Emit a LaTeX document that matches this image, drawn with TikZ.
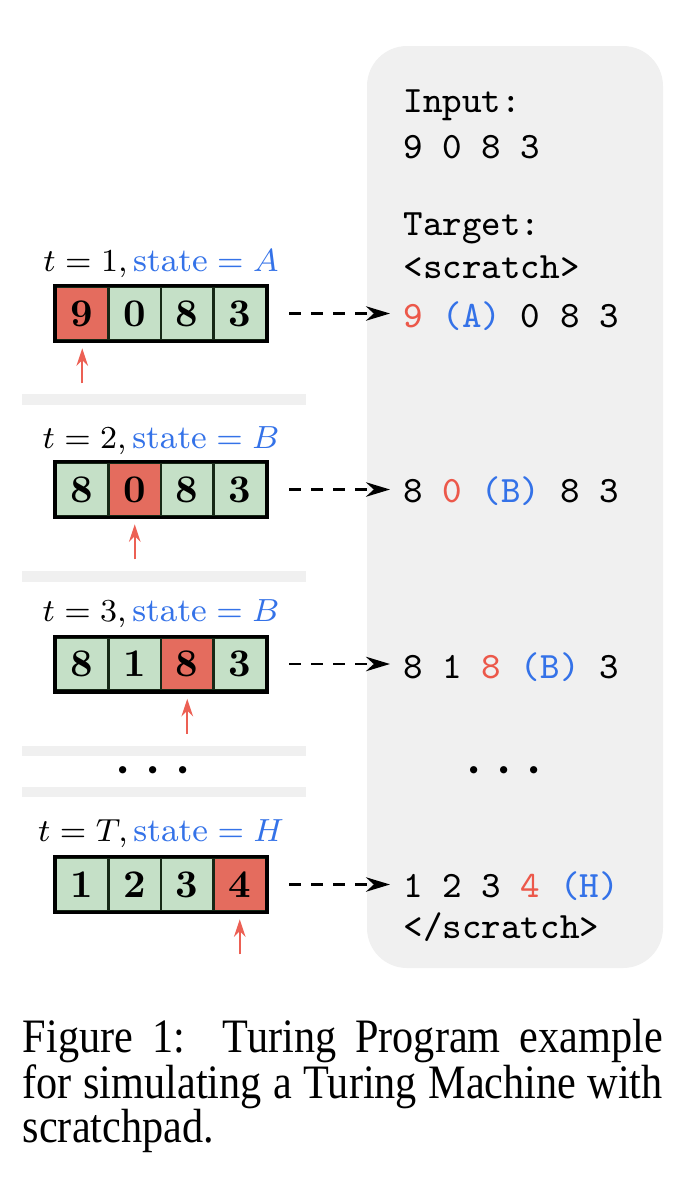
\documentclass[tikz,border=0pt]{standalone}
\usepackage{fontspec}
\usetikzlibrary{arrows.meta,positioning}
\newfontfamily\capfont[FakeStretch=0.88]{Liberation Serif}
\definecolor{headred}{RGB}{228,108,94}
\definecolor{tapegreen}{RGB}{197,224,199}
\definecolor{cellline}{RGB}{22,40,22}
\definecolor{ptrred}{RGB}{236,96,84}
\definecolor{txtred}{RGB}{236,88,74}
\definecolor{stblue}{RGB}{52,114,232}
\definecolor{panel}{RGB}{240,240,240}
\newcommand{\rd}[1]{\textcolor{txtred}{#1}}
\newcommand{\bl}[1]{\textcolor{stblue}{#1}}
\begin{document}
\begin{tikzpicture}[x=0.25pt, y=-0.25pt,
  cell/.style={draw=cellline, line width=0.6pt, fill=tapegreen, inner sep=0pt,
    minimum width=13.1pt, minimum height=13.3pt,
    font=\fontsize{9.8}{10}\selectfont\bfseries},
  head/.style={cell, fill=headred},
  lab/.style={anchor=base, inner sep=0pt, font=\fontsize{8.3}{10}\selectfont},
  mono/.style={anchor=base west, inner sep=0pt, font=\fontsize{9.3}{11}\selectfont\ttfamily},
  flow/.style={line width=0.7pt, dash pattern=on 2.9pt off 2.6pt,
    -{Stealth[length=6pt, width=3.6pt]}},
  ptr/.style={ptrred, line width=0.5pt, -{Stealth[length=4.4pt, width=2.9pt]}},
  dots/.style={inner sep=0pt, font=\fontsize{16}{16}\selectfont}]
  \useasboundingbox (0, 0) rectangle (696, 1180);

  % scratchpad panel and separators
  \fill[panel, rounded corners=10pt] (367, 46) rectangle (663, 968);
  \fill[panel] (22, 394) rectangle (306, 405);
  \fill[panel] (22, 571) rectangle (306, 582);
  \fill[panel] (22, 746) rectangle (306, 756);
  \fill[panel] (22, 787) rectangle (306, 797);

  % tapes
  \foreach \v/\s [count=\i] in {9/head, 0/cell, 8/cell, 3/cell}
    \node[\s] (a\i) at ({29.75 + 52.5*\i}, 313.5) {\v};
  \foreach \v/\s [count=\i] in {8/cell, 0/head, 8/cell, 3/cell}
    \node[\s] (b\i) at ({29.75 + 52.5*\i}, 489.5) {\v};
  \foreach \v/\s [count=\i] in {8/cell, 1/cell, 8/head, 3/cell}
    \node[\s] (c\i) at ({29.75 + 52.5*\i}, 664) {\v};
  \foreach \v/\s [count=\i] in {1/cell, 2/cell, 3/cell, 4/head}
    \node[\s] (d\i) at ({29.75 + 52.5*\i}, 884.5) {\v};
  \foreach \t in {a, b, c, d}
    \draw[line width=0.85pt] (\t1.north west) rectangle (\t4.south east);

  % time step labels
  \node[lab] (la) at (161, 271) {$t=1,\textcolor{stblue}{\mathrm{state}=A}$};
  \node[lab] (lb) at (161, 448) {$t=2,\textcolor{stblue}{\mathrm{state}=B}$};
  \node[lab] (lc) at (161, 621) {$t=3,\textcolor{stblue}{\mathrm{state}=B}$};
  \node[lab] (ld) at (161, 841) {$t=T,\textcolor{stblue}{\mathrm{state}=H}$};

  % head pointers
  \draw[ptr] ([yshift=-10.5pt]a1.south) -- ([yshift=-1.75pt]a1.south);
  \draw[ptr] ([yshift=-10.5pt]b2.south) -- ([yshift=-1.75pt]b2.south);
  \draw[ptr] ([yshift=-10.5pt]c3.south) -- ([yshift=-1.75pt]c3.south);
  \draw[ptr] ([yshift=-10.5pt]d4.south) -- ([yshift=-1.75pt]d4.south);

  % scratchpad text
  \node[mono] (in) at (403, 112) {Input:};
  \node[mono] (inv) at (403, 158) {9 0 8 3};
  \node[mono] (tg) at (403, 235) {Target:};
  \node[mono] (op) at (403, 278) {<scratch>};
  \node[mono] (s1) at (403, 327) {\rd{9} \bl{(A)} 0 8 3};
  \node[mono] (s2) at (403, 502) {8 \rd{0} \bl{(B)} 8 3};
  \node[mono] (s3) at (403, 678) {8 1 \rd{8} \bl{(B)} 3};
  \node[mono] (s4) at (403, 897) {1 2 3 \rd{4} \bl{(H)}};
  \node[mono] (cl) at (403, 938) {</scratch>};

  % ellipses
  \node[dots] (dl) at (153, 772) {${\cdot}\hspace{2.8pt}{\cdot}\hspace{2.8pt}{\cdot}$};
  \node[dots] (dr) at (504, 772) {${\cdot}\hspace{2.8pt}{\cdot}\hspace{2.8pt}{\cdot}$};

  % tape -> scratchpad line
  \draw[flow] ([xshift=5.5pt]a4.east) -- ([xshift=-3.25pt]a4.east -| s1.west);
  \draw[flow] ([xshift=5.5pt]b4.east) -- ([xshift=-3.25pt]b4.east -| s2.west);
  \draw[flow] ([xshift=5.5pt]c4.east) -- ([xshift=-3.25pt]c4.east -| s3.west);
  \draw[flow] ([xshift=5.5pt]d4.east) -- ([xshift=-3.25pt]d4.east -| s4.west);

  % caption
  \node[anchor=base west, inner sep=0pt, font=\capfont\fontsize{12}{14}\selectfont]
    (cap1) at (22, 1052) {\makebox[160pt][s]{Figure 1:\ \ Turing Program example}};
  \node[anchor=base west, inner sep=0pt, font=\capfont\fontsize{12}{14}\selectfont]
    (cap2) at (22, 1098) {\makebox[160pt][s]{for simulating a Turing Machine with}};
  \node[anchor=base west, inner sep=0pt, font=\capfont\fontsize{12}{14}\selectfont]
    (cap3) at (22, 1142) {scratchpad.};
\end{tikzpicture}
\end{document}
